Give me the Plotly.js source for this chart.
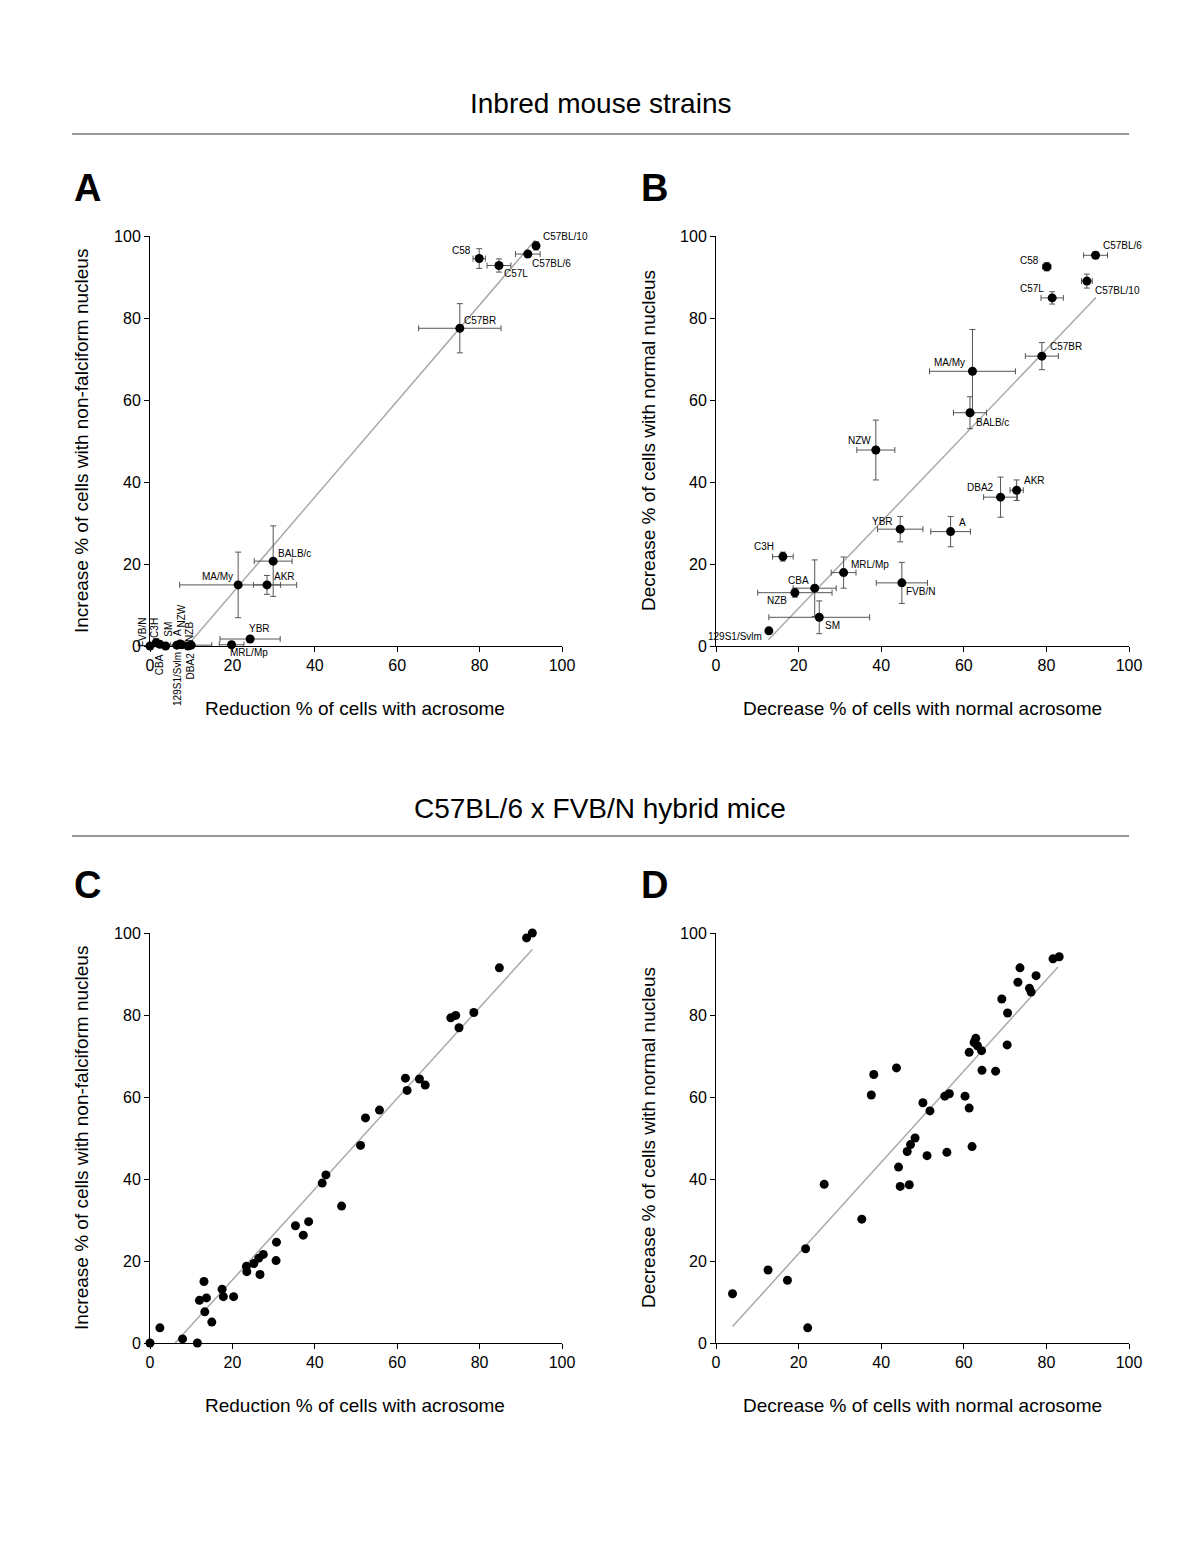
<!DOCTYPE html>
<html>
<head>
<meta charset="utf-8">
<script src="https://cdn.plot.ly/plotly-3.0.1.min.js"></script>
<style>html,body{margin:0;padding:0;background:#fff}#chart{width:1200px;height:1563px}</style>
</head>
<body>
<div id="chart"></div>
<script>
// ---------- Panel A: inbred strains (Reduction acrosome vs Increase non-falciform nucleus)
const strainsA = ['C57BL/10','C57BL/6','C58','C57L','C57BR','BALB/c','MA/My','AKR','YBR','MRL/Mp','FVB/N','C3H','CBA','SM','129S1/Svlm','A','NZW','NZB','DBA2'];
const xA    = [93.7, 91.7, 79.9, 84.7, 75.2, 29.9, 21.4, 28.4, 24.3, 19.8, 0.0, 1.5, 2.4, 3.8, 6.5, 7.3, 7.7, 9.2, 10.0];
const yA    = [97.6, 95.6, 94.5, 92.8, 77.5, 20.7, 14.9, 14.9, 1.7, 0.3, 0.0, 0.8, 0.4, 0.0, 0.2, 0.5, 0.3, 0.0, 0.2];
const xErrA = [0.7, 3.0, 1.5, 2.9, 10.0, 4.6, 14.2, 3.3, 7.3, 3.0, 0, 0, 0, 0, 0, 0, 0, 0, 5.0];
const yErrA = [1.0, 0.5, 2.4, 1.6, 6.0, 8.6, 8.0, 2.3, 0.6, 0, 0, 1.0, 0, 0, 0, 0, 0, 0, 0];
const fitAx = [9.0, 93.5], fitAy = [0.0, 99.0];

// ---------- Panel B: inbred strains (Decrease normal acrosome vs Decrease normal nucleus)
const strainsB = ['C57BL/6','C58','C57BL/10','C57L','C57BR','MA/My','BALB/c','NZW','DBA2','AKR','YBR','A','C3H','MRL/Mp','CBA','NZB','FVB/N','SM','129S1/Svlm'];
const xB    = [91.9, 80.1, 89.8, 81.4, 78.9, 62.1, 61.5, 38.7, 68.9, 72.8, 44.6, 56.8, 16.2, 30.9, 23.9, 19.1, 45.0, 25.0, 12.8];
const yB    = [95.3, 92.5, 89.0, 84.9, 70.7, 67.0, 56.9, 47.8, 36.3, 38.0, 28.5, 27.9, 21.8, 17.9, 14.1, 13.0, 15.4, 7.0, 3.7];
const xErrB = [2.9, 1.0, 1.3, 2.7, 4.0, 10.4, 4.0, 4.6, 4.1, 1.6, 5.5, 4.8, 2.5, 3.0, 5.2, 9.0, 6.2, 12.2, 0];
const yErrB = [0.8, 1.0, 1.7, 1.5, 3.3, 10.2, 3.9, 7.3, 4.9, 2.5, 3.1, 3.7, 1.1, 3.8, 6.9, 1.1, 5.0, 4.0, 0];
const fitBx = [12.7, 92.0], fitBy = [1.5, 85.0];

// ---------- Panel C: hybrid mice
const xC = [0.0, 2.4, 7.9, 11.5, 15.0, 13.3, 12.0, 13.7, 13.1, 17.5, 17.8, 20.3, 23.5, 23.4, 25.2, 26.4, 27.5, 26.7, 30.6, 30.7, 35.3, 37.2, 38.5, 46.5, 41.8, 42.7, 51.1, 52.3, 55.7, 62.4, 62.0, 65.4, 66.8, 73.0, 74.2, 75.0, 78.6, 84.8, 91.4, 92.8];
const yC = [0.0, 3.7, 1.0, 0.0, 5.1, 7.6, 10.4, 11.0, 15.0, 13.1, 11.3, 11.3, 17.4, 18.7, 19.4, 20.7, 21.6, 16.7, 20.1, 24.6, 28.6, 26.3, 29.6, 33.4, 39.0, 41.0, 48.2, 54.9, 56.8, 61.6, 64.6, 64.4, 62.9, 79.3, 79.9, 76.9, 80.6, 91.5, 98.8, 100.0];
const fitCx = [6.1, 92.8], fitCy = [0.0, 96.0];

// ---------- Panel D: hybrid mice
const xD = [4.0, 12.6, 17.3, 21.7, 22.2, 26.2, 35.3, 44.2, 44.6, 46.8, 46.3, 38.2, 43.7, 37.6, 50.1, 51.8, 48.2, 47.1, 51.1, 55.9, 62.0, 55.4, 56.5, 60.3, 61.3, 64.4, 67.7, 61.3, 62.5, 63.3, 64.3, 70.5, 62.9, 69.2, 70.6, 73.6, 73.1, 75.9, 76.3, 77.5, 81.6, 83.1];
const yD = [12.0, 17.8, 15.3, 23.0, 3.7, 38.7, 30.2, 42.9, 38.2, 38.6, 46.7, 65.5, 67.1, 60.5, 58.6, 56.6, 50.0, 48.4, 45.7, 46.5, 47.9, 60.2, 60.8, 60.2, 57.3, 66.5, 66.3, 70.9, 73.3, 72.5, 71.3, 72.7, 74.3, 83.9, 80.5, 91.5, 88.0, 86.5, 85.6, 89.6, 93.7, 94.2];
const fitDx = [4.0, 82.8], fitDy = [4.0, 91.7];

const tickVals = [0, 20, 40, 60, 80, 100];
const tickText = ['0', '20', '40', '60', '80', '100'];

const titleTop = 'Inbred mouse strains';
const titleBottom = 'C57BL/6 x FVB/N hybrid mice';
const xTitleAC = 'Reduction % of cells with acrosome';
const yTitleAC = 'Increase % of cells with non-falciform nucleus';
const xTitleBD = 'Decrease % of cells with normal acrosome';
const yTitleBD = 'Decrease % of cells with normal nucleus';

// ---------- label placement (style only)
const labPosA = {
  'C57BL/10':[5,9,'left',0], 'C57BL/6':[2,-9,'left',0], 'C58':[-6,8,'right',0], 'C57L':[3,-8,'left',0],
  'C57BR':[2,8,'left',0], 'BALB/c':[3,8,'left',0], 'MA/My':[-3,8,'right',0], 'AKR':[5,8,'left',0],
  'YBR':[-3,11,'left',0], 'MRL/Mp':[-4,-8,'left',0],
  'FVB/N':[-8,13,'center',-90], 'C3H':[-1,15,'center',-90], 'CBA':[-1,-20,'center',-90], 'SM':[2,17,'center',-90],
  '129S1/Svlm':[0,-34,'center',-90], 'A':[-2,11,'center',-90], 'NZW':[0,29,'center',-90], 'NZB':[1,14,'center',-90],
  'DBA2':[-1,-21,'center',-90]
};
const labPosB = {
  'C57BL/6':[5,10,'left'], 'C58':[-6,6,'right'], 'C57BL/10':[6,-9,'left'], 'C57L':[-6,9,'right'],
  'C57BR':[6,10,'left'], 'MA/My':[-5,9,'right'], 'BALB/c':[4,-10,'left'], 'NZW':[-3,10,'right'],
  'DBA2':[-5,10,'right'], 'AKR':[5,10,'left'], 'YBR':[-5,8,'right'], 'A':[6,9,'left'],
  'C3H':[-7,10,'right'], 'MRL/Mp':[5,8,'left'], 'CBA':[-4,8,'right'], 'NZB':[-6,-8,'right'],
  'FVB/N':[2,-9,'left'], 'SM':[4,-8,'left'], '129S1/Svlm':[-5,-6,'right']
};

const FONT = 'Liberation Sans, Arial, Helvetica, sans-serif';
const W = 1200, H = 1563;
const px = v => v / W;
const py = v => 1 - v / H;

const errStyle = {type: 'data', visible: true, color: '#555', thickness: 1, width: 3};
const lineStyle = {color: '#aaaaaa', width: 1.5};
const markerStyle = {color: '#000', size: 9};

const traces = [
  {x: fitAx, y: fitAy, mode: 'lines', line: lineStyle, xaxis: 'x', yaxis: 'y', hoverinfo: 'skip'},
  {x: xA, y: yA, mode: 'markers', marker: markerStyle, cliponaxis: false, xaxis: 'x', yaxis: 'y', text: strainsA,
   error_x: Object.assign({array: xErrA}, errStyle), error_y: Object.assign({array: yErrA}, errStyle)},
  {x: fitBx, y: fitBy, mode: 'lines', line: lineStyle, xaxis: 'x2', yaxis: 'y2', hoverinfo: 'skip'},
  {x: xB, y: yB, mode: 'markers', marker: markerStyle, cliponaxis: false, xaxis: 'x2', yaxis: 'y2', text: strainsB,
   error_x: Object.assign({array: xErrB}, errStyle), error_y: Object.assign({array: yErrB}, errStyle)},
  {x: fitCx, y: fitCy, mode: 'lines', line: lineStyle, xaxis: 'x3', yaxis: 'y3', hoverinfo: 'skip'},
  {x: xC, y: yC, mode: 'markers', marker: markerStyle, cliponaxis: false, xaxis: 'x3', yaxis: 'y3'},
  {x: fitDx, y: fitDy, mode: 'lines', line: lineStyle, xaxis: 'x4', yaxis: 'y4', hoverinfo: 'skip'},
  {x: xD, y: yD, mode: 'markers', marker: markerStyle, cliponaxis: false, xaxis: 'x4', yaxis: 'y4'}
];

function axis(domain, anchor) {
  return {
    domain: domain, anchor: anchor, range: [0, 100], fixedrange: true,
    tickvals: tickVals, ticktext: tickText, ticks: 'outside', ticklen: 5, tickwidth: 1, tickcolor: '#000',
    showline: true, linecolor: '#000', linewidth: 1, showgrid: false, zeroline: false,
    tickfont: {family: FONT, size: 16, color: '#000'}
  };
}
const xDomL = [px(150), px(562)], xDomR = [px(716), px(1129)];
const yDomTop = [py(646), py(236)], yDomBot = [py(1343), py(933)];

const annotations = [];
function txt(x, y, text, size, opts) {
  annotations.push(Object.assign({xref: 'paper', yref: 'paper', x: px(x), y: py(y), text: text, showarrow: false,
    xanchor: 'center', yanchor: 'middle', font: {family: FONT, size: size, color: '#000'}}, opts || {}));
}
txt(600, 104, titleTop, 28);
txt(600, 808, titleBottom, 28);
txt(87, 188, '<b>A</b>', 38);
txt(655, 188, '<b>B</b>', 38);
txt(87, 885, '<b>C</b>', 38);
txt(655, 885, '<b>D</b>', 38);
txt(355, 708, xTitleAC, 19);
txt(922, 708, xTitleBD, 19);
txt(355, 1405, xTitleAC, 19);
txt(922, 1405, xTitleBD, 19);
txt(81, 441, yTitleAC, 19, {textangle: -90});
txt(648, 441, yTitleBD, 19, {textangle: -90});
txt(81, 1138, yTitleAC, 19, {textangle: -90});
txt(648, 1138, yTitleBD, 19, {textangle: -90});

strainsA.forEach((s, i) => {
  const p = labPosA[s];
  annotations.push({xref: 'x', yref: 'y', x: xA[i], y: yA[i], text: s, showarrow: false,
    xanchor: p[2], yanchor: 'middle', xshift: p[0], yshift: p[1], textangle: p[3],
    font: {family: FONT, size: 10, color: '#000'}});
});
strainsB.forEach((s, i) => {
  const p = labPosB[s];
  annotations.push({xref: 'x2', yref: 'y2', x: xB[i], y: yB[i], text: s, showarrow: false,
    xanchor: p[2], yanchor: 'middle', xshift: p[0], yshift: p[1],
    font: {family: FONT, size: 10, color: '#000'}});
});

const shapes = [
  {type: 'line', xref: 'paper', yref: 'paper', x0: px(72), x1: px(1129), y0: py(134), y1: py(134), line: {color: '#333', width: 1}},
  {type: 'line', xref: 'paper', yref: 'paper', x0: px(72), x1: px(1129), y0: py(836), y1: py(836), line: {color: '#333', width: 1}}
];

const layout = {
  width: W, height: H, margin: {l: 0, r: 0, t: 0, b: 0},
  paper_bgcolor: '#fff', plot_bgcolor: '#fff', showlegend: false,
  font: {family: FONT, color: '#000'},
  xaxis: axis(xDomL, 'y'), yaxis: axis(yDomTop, 'x'),
  xaxis2: axis(xDomR, 'y2'), yaxis2: axis(yDomTop, 'x2'),
  xaxis3: axis(xDomL, 'y3'), yaxis3: axis(yDomBot, 'x3'),
  xaxis4: axis(xDomR, 'y4'), yaxis4: axis(yDomBot, 'x4'),
  annotations: annotations, shapes: shapes
};

Plotly.newPlot('chart', traces, layout, {staticPlot: true, displayModeBar: false});
</script>
</body>
</html>
